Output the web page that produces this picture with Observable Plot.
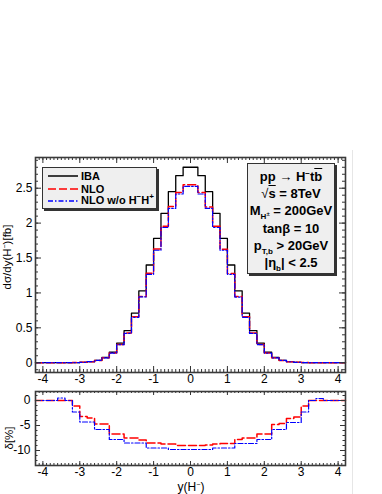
<!DOCTYPE html>
<html>
<head>
<meta charset="utf-8">
<script src="https://cdn.jsdelivr.net/npm/d3@7"></script>
<script src="https://cdn.jsdelivr.net/npm/@observablehq/plot@0.6"></script>
<style>
  html, body { margin: 0; padding: 0; background: #fff; }
  #wrap { position: relative; width: 382px; height: 494px; overflow: hidden; font-family: "Liberation Sans", Arial, Helvetica, sans-serif; }
  #wrap > svg { position: absolute; left: 0; }
  .box { position: absolute; background: #efefef; border: 1px solid #333; box-shadow: 2px 2px 0 #333; }
  .leg-row { position: absolute; left: 5px; height: 12px; display: flex; align-items: center; font-weight: bold; font-size: 11px; line-height: 12px; color: #000; white-space: nowrap; width: 110px; }
  #wrap .leg-row svg { position: static; margin-right: 3px; flex: none; }
  .info-line { position: absolute; left: 0; width: 100%; text-align: center; font-weight: bold; font-size: 13px; line-height: 13px; color: #000; white-space: nowrap; }
  .sub { font-size: 8px; position: relative; top: 4px; }
  .sup { font-size: 8px; position: relative; top: -5px; }
  .ol { text-decoration: overline; }
  .ytitle { position: absolute; transform: rotate(-90deg); transform-origin: center; font-size: 11.5px; line-height: 12px; white-space: nowrap; color: #000; }
</style>
</head>
<body>
<div id="wrap"></div>
<script>
// ---------- data ----------
// bin edges of y(H-) (bin width 0.2)
const binEdges = [-4.2,-4.0,-3.8,-3.6,-3.4,-3.2,-3.0,-2.8,-2.6,-2.4,-2.2,-2.0,-1.8,-1.6,-1.4,-1.2,-1.0,-0.8,-0.6,-0.4,-0.2,0.0,
                  0.2,0.4,0.6,0.8,1.0,1.2,1.4,1.6,1.8,2.0,2.2,2.4,2.6,2.8,3.0,3.2,3.4,3.6,3.8,4.0,4.2];

// dσ/dy [fb]
const iba = [0.0003,0.0004,0.0006,0.001,0.0012,0.0025,0.006,0.015,0.035,0.075,0.15,0.28,0.46,0.71,1.03,1.40,1.78,2.14,2.45,2.68,2.80,
             2.80,2.68,2.45,2.14,1.78,1.40,1.03,0.71,0.46,0.28,0.15,0.075,0.035,0.015,0.006,0.0025,0.0012,0.001,0.0006,0.0004,0.0003];
const nlo = [0.0003,0.0004,0.0006,0.001,0.0012,0.0025,0.0058,0.0145,0.0334,0.0715,0.140,0.261,0.425,0.657,0.949,1.281,1.629,1.954,2.237,2.439,2.548,
             2.548,2.439,2.232,1.954,1.627,1.280,0.950,0.657,0.4255,0.261,0.140,0.0714,0.0334,0.0145,0.0058,0.0025,0.0012,0.001,0.0006,0.0004,0.0003];
const nloNoHH = [0.0003,0.0004,0.0006,0.001,0.0012,0.00244,0.0057,0.0144,0.033,0.0707,0.138,0.258,0.421,0.650,0.942,1.267,1.611,1.937,2.210,2.417,2.526,
                 2.526,2.417,2.210,1.937,1.611,1.267,0.941,0.649,0.420,0.258,0.138,0.0707,0.033,0.0143,0.0057,0.00244,0.0012,0.001,0.0006,0.0004,0.0003];

// relative correction δ [%]
const deltaNlo = [0,0,0,0,0,-1.1,-3.2,-3.5,-4.7,-4.7,-6.7,-6.7,-7.5,-7.5,-7.9,-8.5,-8.5,-8.7,-8.7,-9.0,-9.0,
                  -9.0,-9.0,-8.9,-8.7,-8.6,-8.6,-7.8,-7.5,-7.5,-6.7,-6.7,-4.8,-4.6,-3.6,-3.3,-1.1,0,0,0,0,0];
const deltaNoHH = [0,0,0,0.5,0,-2.3,-4.3,-4.3,-5.8,-5.8,-7.8,-7.8,-8.5,-8.5,-8.5,-9.5,-9.5,-9.5,-9.8,-9.8,-9.8,
                   -9.8,-9.8,-9.8,-9.5,-9.5,-9.5,-8.6,-8.6,-8.6,-7.8,-7.8,-5.8,-5.8,-4.4,-4.4,-2.3,0,0.4,0,0,0];

const xTickLabels = [-4,-3,-2,-1,0,1,2,3,4];
const yTickLabelsTop = [0,0.5,1,1.5,2,2.5];
const yTickLabelsBottom = [0,-5,-10];

// ---------- helpers ----------
function steps(vals) {
  const out = [];
  vals.forEach((v, i) => { out.push({x: binEdges[i], v}); out.push({x: binEdges[i + 1], v}); });
  return out;
}
const xMinor = d3.range(-42, 43).map(i => i / 10);

function frameTicks(W, H, xMaj, xMin, yMaj, yMin, xl, xs, yl, ys) {
  const s = {stroke: "#333", strokeWidth: 1};
  return [
    Plot.tickX(xMin, {x: d => d, insetTop: H - xs, ...s}),
    Plot.tickX(xMin, {x: d => d, insetBottom: H - xs, ...s}),
    Plot.tickX(xMaj, {x: d => d, insetTop: H - xl, ...s}),
    Plot.tickX(xMaj, {x: d => d, insetBottom: H - xl, ...s}),
    Plot.tickY(yMin, {y: d => d, insetRight: W - ys, ...s}),
    Plot.tickY(yMin, {y: d => d, insetLeft: W - ys, ...s}),
    Plot.tickY(yMaj, {y: d => d, insetRight: W - yl, ...s}),
    Plot.tickY(yMaj, {y: d => d, insetLeft: W - yl, ...s})
  ];
}

const baseStyle = {fontFamily: "Liberation Sans, Arial, Helvetica, sans-serif", fontSize: "12px", background: "transparent", color: "#000", overflow: "visible"};
const ml = 35, mr = 37, innerW = 382 - ml - mr;

// ---------- top panel ----------
const topH = 238, topMt = 7, topMb = 16, topInnerH = topH - topMt - topMb;
const topMinorY = d3.range(-1, 30).map(i => i / 10);
const topPlot = Plot.plot({
  width: 382, height: topH,
  marginLeft: ml, marginRight: mr, marginTop: topMt, marginBottom: topMb,
  x: {domain: [-4.2, 4.2]},
  y: {domain: [-0.14, 2.94]},
  style: baseStyle,
  marks: [
    Plot.line(steps(iba), {x: "x", y: "v", stroke: "#000", strokeWidth: 1.3}),
    Plot.line(steps(nlo), {x: "x", y: "v", stroke: "#ff0000", strokeWidth: 1.5, strokeDasharray: "8,3"}),
    Plot.line(steps(nloNoHH), {x: "x", y: "v", stroke: "#0000ff", strokeWidth: 1.2, strokeDasharray: "5,2,1.5,2"}),
    ...frameTicks(innerW, topInnerH, xTickLabels, xMinor, yTickLabelsTop, topMinorY, 6, 3, 6, 3),
    Plot.frame({stroke: "#3a3a3a", strokeWidth: 1.6}),
    Plot.axisX({ticks: xTickLabels, anchor: "bottom", tickSize: 0, tickPadding: 2, label: null, tickFormat: d => String(d)}),
    Plot.axisY({ticks: yTickLabelsTop, anchor: "left", tickSize: 0, tickPadding: 3, label: null, tickFormat: d => String(d)})
  ]
});
topPlot.style.top = "150px";

// ---------- bottom panel ----------
const botH = 106, botMt = 3, botMb = 29, botInnerH = botH - botMt - botMb;
const botMinorY = d3.range(-13, 2);
const bottomPlot = Plot.plot({
  width: 382, height: botH,
  marginLeft: ml, marginRight: mr, marginTop: botMt, marginBottom: botMb,
  x: {domain: [-4.2, 4.2]},
  y: {domain: [-13, 1.8]},
  style: baseStyle,
  marks: [
    Plot.line(steps(deltaNlo), {x: "x", y: "v", stroke: "#ff0000", strokeWidth: 1.5, strokeDasharray: "8,3"}),
    Plot.line(steps(deltaNoHH), {x: "x", y: "v", stroke: "#0000ff", strokeWidth: 1.2, strokeDasharray: "5,2,1.5,2"}),
    ...frameTicks(innerW, botInnerH, xTickLabels, xMinor, yTickLabelsBottom, botMinorY, 4, 2, 5, 2.5),
    Plot.frame({stroke: "#3a3a3a", strokeWidth: 1.6}),
    Plot.axisX({ticks: xTickLabels, anchor: "bottom", tickSize: 0, tickPadding: 2, label: null, tickFormat: d => String(d)}),
    Plot.axisY({ticks: yTickLabelsBottom, anchor: "left", tickSize: 0, tickPadding: 5, label: null, tickFormat: d => String(d)})
  ]
});
bottomPlot.style.top = "388px";

const wrap = document.getElementById("wrap");
wrap.appendChild(topPlot);
wrap.appendChild(bottomPlot);

// faint canvas edge
const edge = document.createElement("div");
edge.style.cssText = "position:absolute;left:352px;top:150px;width:1px;height:344px;background:#e6e6e6;";
wrap.appendChild(edge);

// ---------- legend ----------
const seriesNames = ["IBA", "NLO", "NLO w/o H<span class='sup'>−</span>H<span class='sup'>+</span>"];
const legendStyles = [
  {stroke: "#000", w: 1.5, dash: ""},
  {stroke: "#ff0000", w: 1.6, dash: "8,3"},
  {stroke: "#0000ff", w: 1.3, dash: "5,2,1.5,2"}
];
const legend = document.createElement("div");
legend.className = "box";
legend.style.cssText += "left:42px;top:167px;width:113px;height:40px;";
seriesNames.forEach((name, i) => {
  const row = document.createElement("div");
  row.className = "leg-row";
  row.style.top = (2 + i * 12.5) + "px";
  const st = legendStyles[i];
  row.innerHTML = `<svg width="30" height="6"><line x1="0" y1="3" x2="30" y2="3" stroke="${st.stroke}" stroke-width="${st.w}" stroke-dasharray="${st.dash}"/></svg><span>${name}</span>`;
  legend.appendChild(row);
});
wrap.appendChild(legend);

// ---------- info box ----------
const infoLines = [
  "pp <span style='font-weight:normal'>→</span> H<span class='sup'>−</span>t<span class='ol'>b</span>",
  "<span style='font-weight:normal'>√</span><span class='ol'>s</span> = 8TeV",
  "M<span class='sub'>H<span style='font-size:6px;position:relative;top:-3px'>±</span></span> = 200GeV",
  "tanβ = 10",
  "p<span class='sub'>T,b</span> &gt; 20GeV",
  "|η<span class='sub'>b</span>| &lt; 2.5"
];
const info = document.createElement("div");
info.className = "box";
info.style.cssText += "left:247px;top:163px;width:86px;height:109px;";
infoLines.forEach((t, i) => {
  const d = document.createElement("div");
  d.className = "info-line";
  d.style.top = (6 + i * 17.2) + "px";
  d.innerHTML = t;
  info.appendChild(d);
});
wrap.appendChild(info);

// ---------- axis titles ----------
const yt1 = document.createElement("div");
yt1.className = "ytitle";
yt1.innerHTML = "dσ/dy(H<span style='font-size:7px;position:relative;top:-4px'>−</span>)[fb]";
wrap.appendChild(yt1);
yt1.style.left = (8 - yt1.offsetWidth / 2) + "px";
yt1.style.top = (257 - yt1.offsetHeight / 2) + "px";

const yt2 = document.createElement("div");
yt2.className = "ytitle";
yt2.textContent = "δ[%]";
wrap.appendChild(yt2);
yt2.style.left = (8 - yt2.offsetWidth / 2) + "px";
yt2.style.top = (438 - yt2.offsetHeight / 2) + "px";

const xt = document.createElement("div");
xt.style.cssText = "position:absolute;top:481px;left:0;width:382px;text-align:center;font-size:12px;line-height:12px;color:#000;";
xt.innerHTML = "y(H<span style='font-size:7px;position:relative;top:-4px'>−</span>)";
wrap.appendChild(xt);
</script>
</body>
</html>
